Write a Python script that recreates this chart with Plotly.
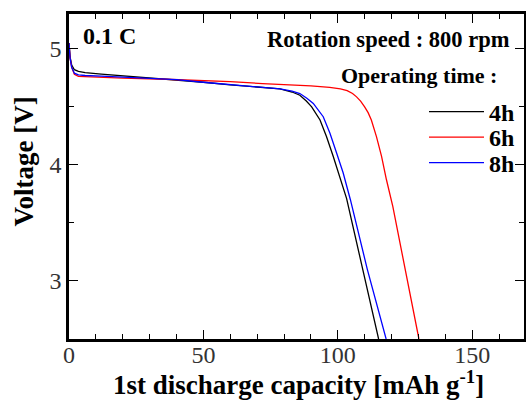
import plotly.graph_objects as go

# ---- data ----
cap_4h = [0, 0.4, 1, 2, 3.5, 6, 12, 20, 30, 40, 50, 60, 70, 78.5, 83, 85.9, 88.3,
          90.3, 93.4, 95.8, 98.3, 100.8, 103.3, 109, 115.2]
volt_4h = [5.05, 4.93, 4.86, 4.82, 4.805, 4.795, 4.782, 4.768, 4.752, 4.735, 4.712,
           4.69, 4.67, 4.655, 4.628, 4.60, 4.55, 4.50, 4.387, 4.244, 4.074, 3.90,
           3.71, 3.13, 2.50]

cap_6h = [0, 0.4, 1, 2, 3.5, 10, 20, 36, 50, 60, 72, 80, 90, 97, 101, 103.5, 105.5,
          107, 108.5, 110, 111.3, 112.5, 113.5, 114.4, 116.3, 118.1, 120.5, 125, 130.2]
volt_6h = [5.05, 4.92, 4.84, 4.78, 4.762, 4.755, 4.748, 4.738, 4.728, 4.718, 4.70,
           4.692, 4.68, 4.668, 4.655, 4.64, 4.615, 4.586, 4.55, 4.50, 4.45, 4.387,
           4.32, 4.244, 4.074, 3.874, 3.64, 3.12, 2.50]

cap_8h = [0, 0.4, 1, 2, 3.5, 6, 12, 20, 30, 40, 50, 60, 70, 78.5, 83, 85.9, 88.5,
          90.9, 94.6, 97.1, 99.6, 102, 104.7, 111, 118]
volt_8h = [5.05, 4.92, 4.84, 4.79, 4.775, 4.77, 4.765, 4.758, 4.75, 4.735, 4.712,
           4.69, 4.668, 4.655, 4.635, 4.615, 4.575, 4.53, 4.415, 4.273, 4.10, 3.932,
           3.70, 3.10, 2.50]

series_names = ["4h", "6h", "8h"]
series_colors = ["#000000", "#ff0000", "#0000ff"]

x_tickvals = [0, 50, 100, 150]
y_tickvals = [3, 4, 5]

x_title = "1st discharge capacity [mAh g<sup>-1</sup>]"
y_title = "Voltage [V]"

FONT = "Liberation Serif"
W, H = 526, 401
L, R, T, B = 69, 524, 14, 339


def px(xp):
    return (xp - L) / (R - L)


def py(yp):
    return (B - yp) / (B - T)


fig = go.Figure()
data = [(cap_4h, volt_4h), (cap_6h, volt_6h), (cap_8h, volt_8h)]
legend_ids = ["legend", "legend2", "legend3"]
for (xs, ys), name, col, lg in zip(data, series_names, series_colors, legend_ids):
    fig.add_trace(go.Scatter(x=xs, y=ys, mode="lines", name=name,
                             line=dict(color=col, width=1.3), legend=lg))

legend_common = dict(font=dict(family=FONT, size=24, color="black", weight="bold"),
                     bgcolor="rgba(0,0,0,0)", borderwidth=0, itemwidth=55,
                     xref="container", yref="container",
                     xanchor="left", yanchor="middle")
leg_x = 424
leg_y = [112, 137.5, 163]
fig.update_layout(
    legend=dict(x=leg_x / W, y=1 - leg_y[0] / H, **legend_common),
    legend2=dict(x=leg_x / W, y=1 - leg_y[1] / H, **legend_common),
    legend3=dict(x=leg_x / W, y=1 - leg_y[2] / H, **legend_common),
)

axis_common = dict(showline=True, linewidth=2.6, linecolor="black", mirror="ticks",
                   ticks="inside", ticklen=9, tickwidth=1.3, tickcolor="black",
                   showgrid=False, zeroline=False, automargin=False,
                   tickfont=dict(family=FONT, size=24, color="#333333"))

fig.update_xaxes(range=[0, 169.3], tickvals=x_tickvals, ticklabelstandoff=-8,
                 minor=dict(dtick=10, tick0=0, ticks="inside", ticklen=5,
                            tickwidth=1.2, tickcolor="black", showgrid=False),
                 **axis_common)
fig.update_yaxes(range=[2.5, 5.3], tickvals=y_tickvals,
                 minor=dict(dtick=0.5, tick0=2.5, ticks="inside", ticklen=5,
                            tickwidth=1.2, tickcolor="black", showgrid=False),
                 **axis_common)

title_font = dict(family=FONT, size=27, color="black", weight="bold")
fig.add_annotation(text=x_title, xref="paper", yref="paper", x=px(298.5), y=py(383),
                   xanchor="center", yanchor="middle", showarrow=False, font=title_font)
fig.add_annotation(text=y_title, xref="paper", yref="paper", x=px(23), y=py(161.5),
                   xanchor="center", yanchor="middle", textangle=-90,
                   showarrow=False, font=title_font)

fig.add_annotation(text="0.1 C", xref="paper", yref="paper", x=px(81), y=py(36),
                   xanchor="left", yanchor="middle", showarrow=False,
                   font=dict(family=FONT, size=24, color="black", weight="bold"))
fig.add_annotation(text="Rotation speed : 800 rpm", xref="paper", yref="paper",
                   x=px(512), y=py(40), xanchor="right", yanchor="middle",
                   showarrow=False,
                   font=dict(family=FONT, size=22.5, color="black", weight="bold"))
fig.add_annotation(text="Operating time :", xref="paper", yref="paper",
                   x=px(499), y=py(75), xanchor="right", yanchor="middle",
                   showarrow=False,
                   font=dict(family=FONT, size=22, color="black", weight="bold"))

fig.update_layout(width=W, height=H, margin=dict(l=L, r=W - R, t=T, b=H - B, pad=0,
                                                 autoexpand=False),
                  plot_bgcolor="white", paper_bgcolor="white", showlegend=True)

fig.write_html("out.html", config={"displayModeBar": False},
               post_script="document.body.style.margin='0px';"
                           "document.body.style.overflow='hidden';")
